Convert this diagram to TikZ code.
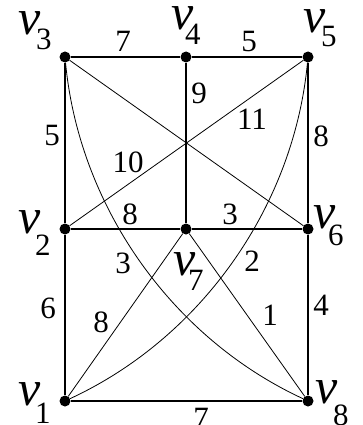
\documentclass[tikz,border=0pt]{standalone}
\usepackage{fontspec}
\setmainfont{Liberation Serif}
\newcommand\bigv{\fontsize{50}{50}\selectfont\itshape}
\newcommand\digf{\fontsize{31}{31}\selectfont}
\newcommand\vl[3]{\makebox[0pt][l]{\bigv v}\hspace{#1pt}\raisebox{-#2pt}{\digf #3}}
\begin{document}
\begin{tikzpicture}[x=1pt,y=-1pt,
  dot/.style={circle,fill=black,inner sep=0pt,minimum size=11pt},
  heavy/.style={line width=1.6pt},
  light/.style={line width=0.8pt},
  wlab/.style={inner sep=0pt,font=\digf},
  vlab/.style={inner sep=0pt,anchor=base west}]
\useasboundingbox (0,0) rectangle (363,425);
\clip (0,0) rectangle (363,425);
% vertices
\node[dot] (v1) at (65,401) {};
\node[dot] (v2) at (65,229) {};
\node[dot] (v3) at (65,57) {};
\node[dot] (v4) at (186,57) {};
\node[dot] (v5) at (308,57) {};
\node[dot] (v6) at (308,229) {};
\node[dot] (v7) at (186,229) {};
\node[dot] (v8) at (308,401) {};
% heavy edges
\draw[heavy] (v3) -- (v4);
\draw[heavy] (v4) -- (v5);
\draw[heavy] (v5) -- (v6);
\draw[heavy] (v6) -- (v8);
\draw[heavy] (v8) -- (v1);
\draw[heavy] (v1) -- (v2);
\draw[heavy] (v2) -- (v3);
\draw[heavy] (v2) -- (v7);
\draw[heavy] (v7) -- (v6);
\draw[heavy] (v4) -- (v7);
% light edges
\draw[light] (v3) -- (v6);
\draw[light] (v2) -- (v5);
\draw[light] (v7) -- (v1);
\draw[light] (v7) -- (v8);
\draw[light] (v3) .. controls (79.2,206.6) and (171.8,337.9) .. (v8);
\draw[light] (v5) .. controls (293.8,206.6) and (201.2,337.9) .. (v1);
% vertex labels
\node[vlab] (l3) at (18,35) {\vl{18}{15}{3}};
\node[vlab] (l4) at (171,30) {\vl{14}{15}{4}};
\node[vlab] (l5) at (303,33) {\vl{18}{14}{5}};
\node[vlab] (l2) at (18,233) {\vl{17}{22}{2}};
\node[vlab] (l6) at (313,228) {\vl{15}{17}{6}};
\node[vlab] (l7) at (173,275) {\vl{15}{15}{7}};
\node[vlab] (l1) at (18,405) {\vl{17}{18}{1}};
\node[vlab] (l8) at (315,403) {\vl{18}{22}{8}};
% weights
\node[wlab] (w34) at (123,41) {7};
\node[wlab] (w45) at (249,42) {5};
\node[wlab] (w47) at (199,93) {9};
\node[wlab] (w11) at (252,119) {11};
\node[wlab] (w23) at (52,136) {5};
\node[wlab] (w56) at (321,136) {8};
\node[wlab] (w10) at (128,162) {10};
\node[wlab] (w27) at (130,214) {8};
\node[wlab] (w76) at (230,214) {3};
\node[wlab] (w38) at (123,263) {3};
\node[wlab] (w51) at (252,261) {2};
\node[wlab] (w12) at (48,308) {6};
\node[wlab] (w71) at (101,322) {8};
\node[wlab] (w78) at (270,315) {1};
\node[wlab] (w68) at (321,305) {4};
\node[wlab] (w18) at (201,418) {7};
\end{tikzpicture}
\end{document}
